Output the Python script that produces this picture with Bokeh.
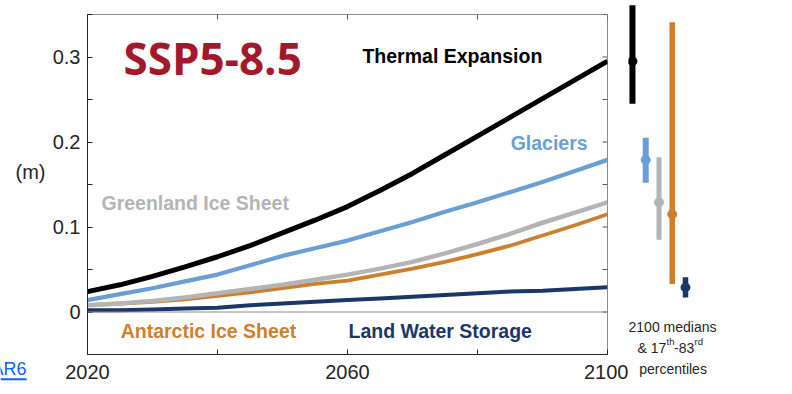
from bokeh.plotting import figure
from bokeh.models import Range1d, LinearAxis, FixedTicker, Span
from bokeh.layouts import row
from bokeh.embed import file_html
from bokeh.resources import INLINE
from bokeh.core.properties import value

# ---------------- data ----------------
years = [2020, 2025, 2030, 2035, 2040, 2045, 2050, 2055, 2060,
         2065, 2070, 2075, 2080, 2085, 2090, 2095, 2100]
thermal = [0.024, 0.032, 0.042, 0.053, 0.065, 0.078, 0.093, 0.108, 0.124,
           0.143, 0.163, 0.185, 0.207, 0.229, 0.251, 0.273, 0.295]
glaciers = [0.014, 0.021, 0.028, 0.036, 0.044, 0.055, 0.066, 0.075, 0.084,
            0.095, 0.106, 0.118, 0.129, 0.141, 0.153, 0.166, 0.179]
greenland = [0.008, 0.010, 0.013, 0.017, 0.022, 0.027, 0.032, 0.038, 0.044,
             0.051, 0.059, 0.069, 0.080, 0.092, 0.105, 0.117, 0.129]
antarctic = [0.008, 0.010, 0.012, 0.015, 0.019, 0.023, 0.028, 0.033, 0.037,
             0.044, 0.051, 0.059, 0.068, 0.078, 0.090, 0.102, 0.115]
land_water = [0.002, 0.002, 0.003, 0.004, 0.005, 0.008, 0.010, 0.012, 0.014,
              0.016, 0.018, 0.020, 0.022, 0.024, 0.025, 0.027, 0.029]

components = ["Thermal Expansion", "Glaciers", "Greenland Ice Sheet",
              "Antarctic Ice Sheet", "Land Water Storage"]
median_2100 = [0.295, 0.179, 0.129, 0.115, 0.029]
p17_2100 = [0.245, 0.152, 0.085, 0.033, 0.017]
p83_2100 = [0.361, 0.205, 0.182, 0.341, 0.041]

x_ticks = [2020, 2040, 2060, 2080, 2100]
x_tick_labels = ["2020", "", "2060", "", "2100"]
y_ticks = [-0.05, 0.0, 0.05, 0.1, 0.15, 0.2, 0.25, 0.3, 0.35]
y_tick_labels = ["", "0", "", "0.1", "", "0.2", "", "0.3", ""]

scenario = "SSP5-8.5"
unit_label = "(m)"
source_label = "AR6"

# ---------------- styles ----------------
C_THERM = "#000000"
C_GLAC = "#6A9FD5"
C_GREEN = "#B4B4B4"
C_ANT = "#CC7F2E"
C_LAND = "#1B3768"
colors = [C_THERM, C_GLAC, C_GREEN, C_ANT, C_LAND]
FONT = "Liberation Sans"
H = 390
X0, X1 = 2020, 2100
Y0, Y1 = -0.05, 0.35
FRAME_W, FRAME_H = 520, 340
# side strips share the main panel's vertical scale (same pixel per metre)
PX_PER_M = FRAME_H / (Y1 - Y0)
TOP_B, BOT_B = 14, H - 14 - FRAME_H
Y_TOP_EXT = Y1 + TOP_B / PX_PER_M
Y_BOT_EXT = Y0 - BOT_B / PX_PER_M
TICK_PX = 5

# ---------------- main panel ----------------
p = figure(width=39 + FRAME_W + 21, height=H, x_range=Range1d(X0, X1), y_range=Range1d(Y0, Y1),
           output_backend="svg", toolbar_location=None, x_axis_type=None, y_axis_type=None,
           min_border_left=39, min_border_right=21, min_border_top=TOP_B, min_border_bottom=BOT_B)
p.frame_align = False
p.outline_line_color = "#8c8c8c"
p.outline_line_width = 1
p.background_fill_color = "white"
p.border_fill_color = "white"


def make_axis(ticks, labels, standoff):
    ax = LinearAxis(ticker=FixedTicker(ticks=ticks),
                    major_label_overrides={t: l for t, l in zip(ticks, labels)})
    ax.major_tick_in = TICK_PX
    ax.major_tick_out = 0
    ax.minor_tick_in = 0
    ax.minor_tick_out = 0
    ax.axis_line_color = "#262626"
    ax.major_tick_line_color = "#262626"
    ax.axis_line_width = 1
    ax.major_label_text_font = FONT
    ax.major_label_text_color = "#262626"
    ax.major_label_text_font_size = "20px"
    ax.major_label_standoff = standoff
    return ax


p.add_layout(make_axis(x_ticks, x_tick_labels, 10), "below")
p.add_layout(make_axis(y_ticks, y_tick_labels, 7), "left")

# inward ticks on the top and right edges of the box
dy = TICK_PX / PX_PER_M
dx = TICK_PX * (X1 - X0) / FRAME_W
p.segment(x0=x_ticks, y0=[Y1] * len(x_ticks), x1=x_ticks, y1=[Y1 - dy] * len(x_ticks),
          line_color="#555555", line_width=1)
p.segment(x0=[X1] * len(y_ticks), y0=y_ticks, x1=[X1 - dx] * len(y_ticks), y1=y_ticks,
          line_color="#555555", line_width=1)

p.add_layout(Span(location=0, dimension="width", line_color="#8c8c8c", line_width=1))

p.line(years, antarctic, line_color=C_ANT, line_width=3.8)
p.line(years, greenland, line_color=C_GREEN, line_width=4.5)
p.line(years, glaciers, line_color=C_GLAC, line_width=4.2)
p.line(years, thermal, line_color=C_THERM, line_width=5)
p.line(years, land_water, line_color=C_LAND, line_width=4)

p.text(x=[2025.54], y=[0.2988], text=[scenario], text_font=value("Open Sans"),
       text_font_style="bold", text_font_size="44px", text_color="#A3192B",
       text_baseline="alphabetic", text_align="left")

lab_x = [2062.3, 2085.1, 2022.15, 2025.1, 2060.15]
lab_y = [0.3015, 0.1993, 0.1287, -0.0219, -0.0219]
p.text(x=lab_x, y=lab_y, text=components, text_font=value(FONT), text_font_style="bold",
       text_font_size="19.5px", text_color=colors, text_baseline="alphabetic", text_align="left")

# ---------------- left strip (unit + source) ----------------
lf = figure(width=48, height=H, x_range=Range1d(0, 48), y_range=Range1d(Y_BOT_EXT, Y_TOP_EXT),
            output_backend="svg", toolbar_location=None, x_axis_type=None, y_axis_type=None,
            min_border=0)
lf.frame_align = False
lf.outline_line_color = None
lf.grid.visible = False
lf.text(x=[15], y=[0.1643], text=[unit_label], text_font=value(FONT), text_font_size="20px",
        text_color="#262626", text_baseline="alphabetic", text_align="left")
lf.text(x=[26], y=[-0.0670], text=[source_label], text_font=value(FONT), text_font_size="18px",
        text_color="#0A66F0", text_baseline="alphabetic", text_align="right")
lf.segment(x0=[0], y0=[-0.0790], x1=[26], y1=[-0.0790], line_color="#0A66F0", line_width=2)

# ---------------- right strip (2100 medians and ranges) ----------------
rf = figure(width=112, height=H, x_range=Range1d(-0.3, 8.15), y_range=Range1d(Y_BOT_EXT, Y_TOP_EXT),
            output_backend="svg", toolbar_location=None, x_axis_type=None, y_axis_type=None,
            min_border=0)
rf.frame_align = False
rf.outline_line_color = None
rf.grid.visible = False
xs = list(range(len(components)))
rf.segment(x0=xs, y0=p17_2100, x1=xs, y1=p83_2100, line_color=colors,
           line_width=[6, 6, 5, 5.5, 5.5])
rf.scatter(x=xs, y=median_2100, size=9, fill_color=colors, line_color=colors)

txt = dict(text_font=value(FONT), text_color="#262626", text_baseline="alphabetic")
rf.text(x=[3.02], y=[-0.0181], text=["2100 medians"], text_font_size="14px", text_align="center", **txt)
rf.text(x=[0.379], y=[-0.0428], text=["& 17"], text_font_size="14px", text_align="left", **txt)
rf.text(x=[2.568], y=[-0.0351], text=["th"], text_font_size="9.5px", text_align="left", **txt)
rf.text(x=[3.134], y=[-0.0428], text=["-83"], text_font_size="14px", text_align="left", **txt)
rf.text(x=[4.68], y=[-0.0351], text=["rd"], text_font_size="9.5px", text_align="left", **txt)
rf.text(x=[3.06], y=[-0.0675], text=["percentiles"], text_font_size="14px", text_align="center", **txt)

layout = row(lf, p, rf)
open("out.html", "w").write(file_html(layout, INLINE))
